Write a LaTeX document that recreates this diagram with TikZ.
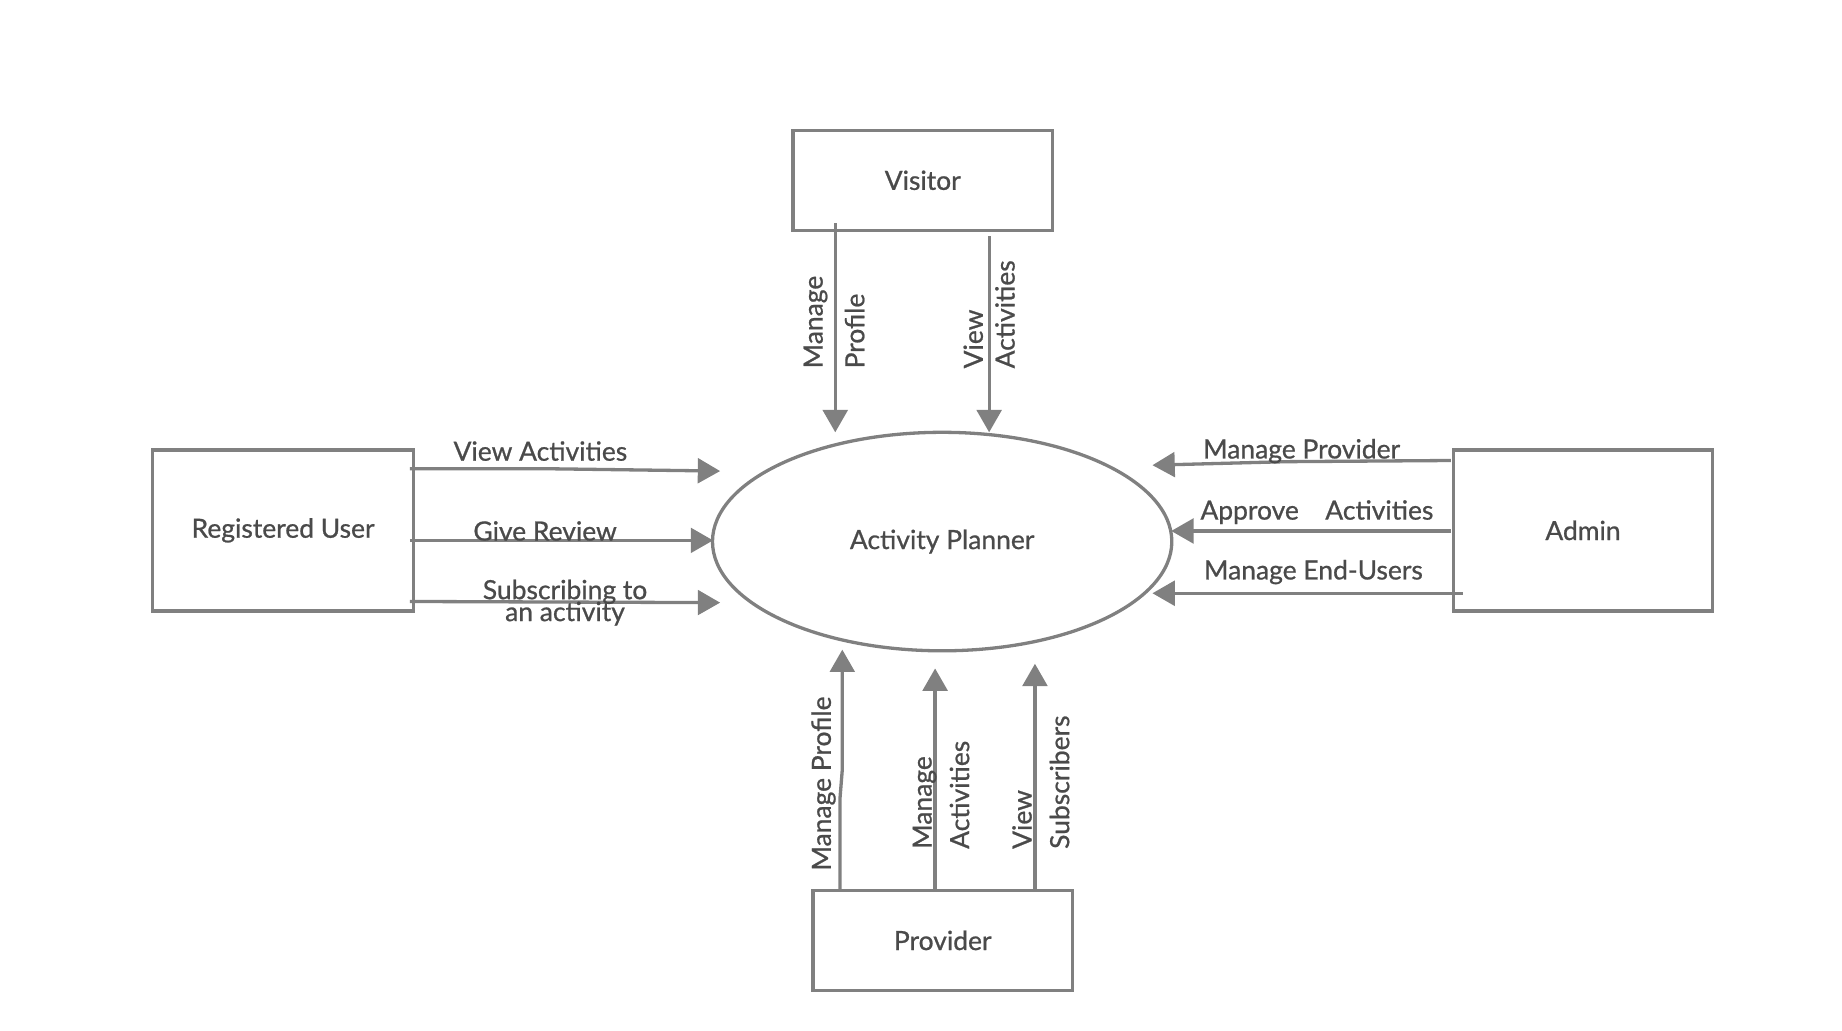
\documentclass[tikz,border=0pt]{standalone}
\usepackage{fontspec}
\setmainfont{Lato}[BoldFont=Lato, BoldFeatures={FakeBold=0.8}]
\usetikzlibrary{arrows.meta,shapes.geometric}
\definecolor{linegray}{RGB}{128,128,128}
\definecolor{textgray}{RGB}{74,74,74}
\begin{document}
\begin{tikzpicture}[thick,
    font=\fontsize{6.4}{7.7}\selectfont\bfseries,
    every node/.style={text=textgray},
    box/.style={draw=linegray, rectangle, minimum width=2.21cm},
    flow/.style={draw=linegray, -{Triangle[length=0.19cm, width=0.21cm]}},
    vlabel/.style={rotate=90, anchor=west, align=left, inner sep=0pt}]
    \useasboundingbox (0, 0) rectangle (15.68, 8.77);

    % Process
    \node [draw=linegray, ellipse, minimum width=3.91cm, minimum height=1.86cm,
           inner sep=0pt] (planner) at (8.02, 4.16) {Activity Planner};

    % External entities
    \node [box, minimum height=0.85cm] (visitor) at (7.855, 7.235) {Visitor};
    \node [box, minimum height=1.37cm, minimum width=2.22cm]
          (reg) at (2.41, 4.255) {Registered User};
    \node [box, minimum height=1.37cm] (admin) at (13.475, 4.255) {Admin};
    \node [box, minimum height=0.85cm] (provider) at (8.025, 0.765) {Provider};

    % Visitor
    \coordinate (vp1) at (7.11, 6.87);
    \coordinate (vp2) at (7.11, 5.09);
    \coordinate (va1) at (8.42, 6.76);
    \coordinate (va2) at (8.42, 5.09);
    \draw [flow] (vp1) -- (vp2);
    \draw [flow] (va1) -- (va2);
    \node [vlabel] (vplabel) at (7.10, 5.62) {Manage\\[2.4pt]Profile};
    \node [vlabel] (valabel) at (8.42, 5.62) {View\\Activities};

    % Registered user
    \coordinate (rv1) at (3.49, 4.78);
    \coordinate (rvb) at (4.65, 4.78);
    \coordinate (rv2) at (6.13, 4.76);
    \coordinate (rg1) at (3.49, 4.17);
    \coordinate (rg2) at (6.07, 4.17);
    \coordinate (rs1) at (3.49, 3.65);
    \coordinate (rs2) at (6.13, 3.64);
    \draw [flow] (rv1) -- (rvb) -- (rv2);
    \draw [flow] (rg1) -- (rg2);
    \draw [flow] (rs1) -- (rs2);
    \node (rvlabel) at (4.60, 4.93) {View Activities};
    \node (rglabel) at (4.64, 4.25) {Give Review};
    \node [align=center] (rslabel) at (4.81, 3.64) {Subscribing to\\[-2.4pt]an activity};

    % Admin
    \coordinate (am1) at (12.35, 4.85);
    \coordinate (amb) at (10.95, 4.84);
    \coordinate (am2) at (9.81, 4.81);
    \coordinate (aa1) at (12.35, 4.25);
    \coordinate (aa2) at (9.97, 4.25);
    \coordinate (ae1) at (12.45, 3.72);
    \coordinate (ae2) at (9.81, 3.72);
    \draw [flow] (am1) -- (amb) -- (am2);
    \draw [flow] (aa1) -- (aa2);
    \draw [flow] (ae1) -- (ae2);
    \node (amlabel) at (11.08, 4.93) {Manage Provider};
    \node (aalabel) at (11.21, 4.41) {Approve\quad Activities};
    \node (aelabel) at (11.18, 3.90) {Manage End-Users};

    % Provider
    \coordinate (pp1) at (7.15, 1.19);
    \coordinate (ppa) at (7.15, 1.97);
    \coordinate (ppb) at (7.17, 2.22);
    \coordinate (pp2) at (7.17, 3.24);
    \coordinate (pa1) at (7.96, 1.19);
    \coordinate (pa2) at (7.96, 3.08);
    \coordinate (pv1) at (8.81, 1.19);
    \coordinate (pv2) at (8.81, 3.12);
    \draw [flow] (pp1) -- (ppa) -- (ppb) -- (pp2);
    \draw [flow] (pa1) -- (pa2);
    \draw [flow] (pv1) -- (pv2);
    \node [rotate=90, inner sep=0pt] (pplabel) at (7.01, 2.10) {Manage Profile};
    \node [vlabel] (palabel) at (8.01, 1.53) {Manage\\[1.4pt]Activities};
    \node [vlabel] (pvlabel) at (8.86, 1.53) {View\\[1.4pt]Subscribers};

  \end{tikzpicture}
\end{document}
